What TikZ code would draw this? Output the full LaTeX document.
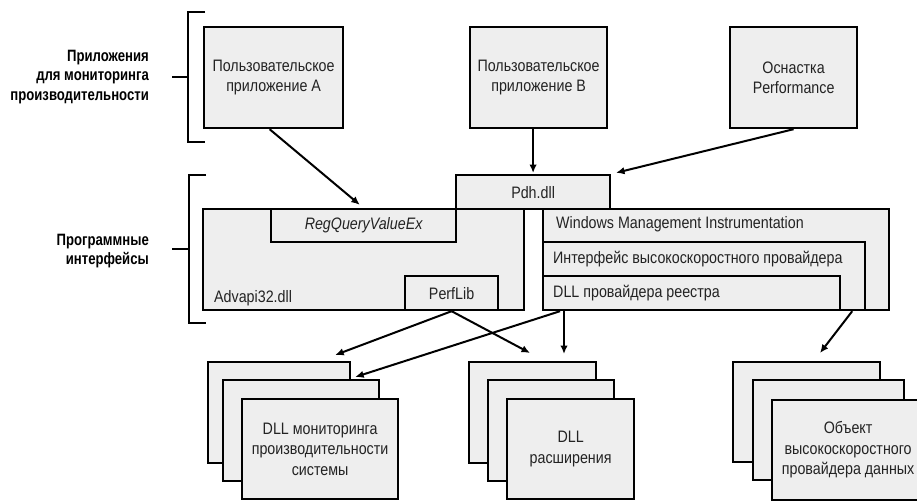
\documentclass[tikz,border=0pt]{standalone}
\usepackage{fontspec}
\setmainfont{Liberation Sans}[FakeStretch=0.86]
\newfontfamily\labelfont{Liberation Sans}[FakeStretch=0.8]
\usetikzlibrary{arrows.meta,calc}
\definecolor{boxfill}{RGB}{238,238,238}
\definecolor{ink}{RGB}{35,35,35}
\tikzset{
  box/.style={draw=black, line width=2.2pt, fill=boxfill, inner sep=0pt,
    anchor=north west, align=center, text=ink,
    font=\fontsize{16.6}{20.5}\selectfont},
  boxtext/.style={anchor=west, inner sep=0pt, text=ink,
    font=\fontsize{16.6}{20.5}\selectfont},
  grouplabel/.style={anchor=east, align=right, inner sep=0pt,
    font=\labelfont\bfseries\fontsize{16.4}{19.5}\selectfont},
  conn/.style={line width=2pt, -{Latex[length=8.5pt,width=7.5pt]}},
  bracket/.style={line width=2.2pt},
}
\begin{document}
\begin{tikzpicture}[x=1pt,y=-1pt]
\useasboundingbox (0,0) rectangle (917,500);
\fill[white] (0,0) rectangle (917,500);
\clip (0,0) rectangle (917,500);

% group brackets and their labels
\draw[bracket] (205,12) -- (188,12) -- (188,142) -- (205,142);
\draw[bracket] (172,77) -- (188,77);
\node[grouplabel] (lblapps) at (149,77) {Приложения\\для мониторинга\\производительности};
\draw[bracket] (206,175) -- (189,175) -- (189,323) -- (206,323);
\draw[bracket] (172,249) -- (189,249);
\node[grouplabel] (lblapi) at (149,251) {Программные\\интерфейсы};

% monitoring applications
\node[box, minimum width=139pt, minimum height=101pt] (appA) at (203,26)
  {Пользовательское\\приложение A};
\node[box, minimum width=137pt, minimum height=101pt] (appB) at (469,26)
  {Пользовательское\\приложение B};
\node[box, minimum width=127pt, minimum height=101pt] (perf) at (729,26)
  {Оснастка\\Performance};

% API layer
\node[box, minimum width=321pt, minimum height=101pt] (advapi) at (202,208) {};
\node[boxtext] (advapitxt) at ($(advapi.south west)+(12,-13)$) {Advapi32.dll};
\node[box, minimum width=185pt, minimum height=33pt] (regq) at (270,208)
  {\itshape RegQueryValueEx};
\node[box, minimum width=93pt, minimum height=34pt] (perflib) at (404,275) {PerfLib};
\node[box, minimum width=154pt, minimum height=34pt] (pdh) at (455,174) {Pdh.dll};
\node[box, minimum width=346pt, minimum height=101pt] (wmi) at (542,208) {};
\node[boxtext] (wmitxt) at ($(wmi.north west)+(14,16)$) {Windows Management Instrumentation};
\node[box, minimum width=322pt, minimum height=68pt] (iface) at (542,241) {};
\node[boxtext] (ifacetxt) at ($(iface.north west)+(11,18)$) {Интерфейс высокоскоростного провайдера};
\node[box, minimum width=297pt, minimum height=34pt] (regdll) at (542,275) {};
\node[boxtext] (regdlltxt) at ($(regdll.north west)+(11,18)$) {DLL провайдера реестра};

% stacked provider DLLs
\node[box, minimum width=142pt, minimum height=101pt] (mon1) at (207,361) {};
\node[box, minimum width=156pt, minimum height=101pt] (mon2) at (222,379) {};
\node[box, minimum width=156pt, minimum height=100pt] (mon3) at (241,398)
  {DLL мониторинга\\производительности\\системы};
\node[box, minimum width=127pt, minimum height=101pt] (ext1) at (468,361) {};
\node[box, minimum width=126pt, minimum height=101pt] (ext2) at (487,379) {};
\node[box, minimum width=127pt, minimum height=100pt] (ext3) at (506,398)
  {DLL\\расширения};
\node[box, minimum width=147pt, minimum height=100pt] (obj1) at (732,361) {};
\node[box, minimum width=151pt, minimum height=100pt] (obj2) at (752,379) {};
\node[box, minimum width=152pt, minimum height=100pt] (obj3) at (771,399)
  {Объект\\высокоскоростного\\провайдера данных};

% connectors
\draw[conn, shorten >=5pt] ($(appA.south)+(-4,0)$) -- (regq.north);
\draw[conn, shorten >=1pt] (pdh.north |- appB.south) -- (pdh.north);
\draw[conn, shorten >=5pt] (perf.south) -- (pdh.north east);
\draw[conn] (perflib.south) -- ($(mon1.north east)+(-16,-6)$);
\draw[conn] (perflib.south) -- ($(ext1.north west)+(62,-8)$);
\draw[conn] ($(regdll.south west)+(18,0)$) -- ($(mon2.north east)+(-25,-2)$);
\draw[conn, shorten >=7pt] ($(regdll.south west)+(22,0)$) coordinate (regdown)
  -- (regdown |- ext1.north);
\draw[conn] ($(wmi.south east)+(-38,0)$) -- ($(obj1.north west)+(88,-8)$);
\end{tikzpicture}
\end{document}
